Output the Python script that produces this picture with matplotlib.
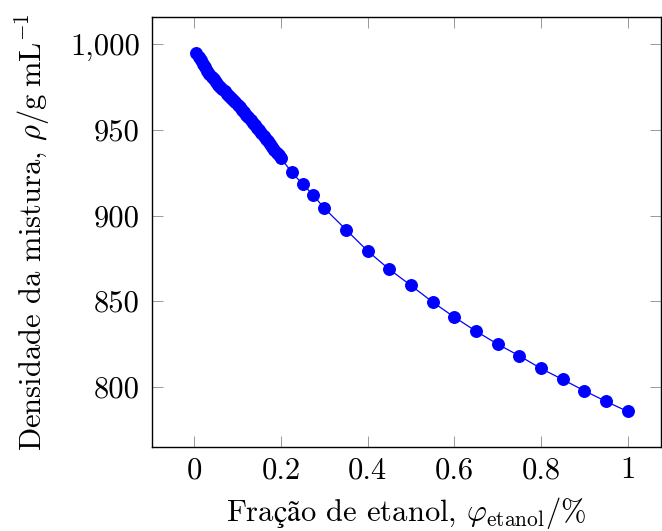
import matplotlib
matplotlib.use("Agg")
import matplotlib.pyplot as plt
from matplotlib.ticker import FuncFormatter

# Fração molar de etanol (eixo x)
fracao = [0.005, 0.010, 0.015, 0.020, 0.025, 0.030, 0.035, 0.040, 0.045, 0.050,
          0.055, 0.060, 0.065, 0.070, 0.075, 0.080, 0.085, 0.090, 0.095, 0.100,
          0.105, 0.110, 0.115, 0.120, 0.125, 0.130, 0.135, 0.140, 0.145, 0.150,
          0.155, 0.160, 0.165, 0.170, 0.175, 0.180, 0.185, 0.190, 0.195, 0.200,
          0.225, 0.250, 0.275, 0.300, 0.350, 0.400, 0.450, 0.500, 0.550, 0.600,
          0.650, 0.700, 0.750, 0.800, 0.850, 0.900, 0.950, 1.000]

# Densidade da mistura (eixo y)
densidade = [995.0, 992.8, 990.7, 988.6, 986.6, 984.6, 982.8, 981.1, 979.5, 977.9,
             976.5, 975.1, 973.8, 972.5, 971.2, 970.0, 968.7, 967.4, 966.1, 964.7,
             963.2, 961.7, 960.2, 958.7, 957.3, 955.8, 954.3, 952.9, 951.3, 949.7,
             948.2, 946.6, 945.0, 943.3, 941.7, 940.1, 938.4, 936.7, 935.1, 933.5,
             925.2, 918.4, 911.8, 904.3, 891.8, 879.3, 868.6, 859.2, 849.5, 840.7,
             832.5, 824.9, 818.1, 810.7, 804.3, 797.7, 791.5, 785.6]

xticks = [0, 0.2, 0.4, 0.6, 0.8, 1]
yticks = [800, 850, 900, 950, 1000]

plt.rcParams['font.family'] = ['cmr10', 'DejaVu Serif']
plt.rcParams['mathtext.fontset'] = 'cm'
plt.rcParams['axes.formatter.use_mathtext'] = True

FS = 22

fig = plt.figure(figsize=(6.62, 5.31), dpi=100)
ax = fig.add_axes([0.230, 0.158, 0.7685, 0.8095])

ax.plot(fracao, densidade, color='blue', lw=0.9, marker='o', markersize=8.3,
        markeredgecolor='blue', markerfacecolor='blue')

ax.set_xlim(-0.097, 1.077)
ax.set_ylim(764.8, 1015.8)
ax.set_xticks(xticks)
ax.set_yticks(yticks)
ax.xaxis.set_major_formatter(FuncFormatter(lambda v, p: f"{v:g}"))
ax.yaxis.set_major_formatter(FuncFormatter(lambda v, p: f"{v:,.0f}"))

ax.tick_params(direction='in', length=7.6, width=0.7, color='0.6',
               top=True, right=True, labelsize=FS)
ax.tick_params(axis='x', pad=7)
ax.tick_params(axis='y', pad=9)
for s in ax.spines.values():
    s.set_linewidth(1.0)

# ç e ã pela fonte de fallback do mathtext (cmr10 não tem esses glifos)
ax.set_xlabel(r"Fra$\mathrm{ç}$$\mathrm{ã}$o de etanol, $\varphi_{\mathrm{etanol}}/\%$",
              fontsize=FS, labelpad=8)
ax.set_ylabel(r"Densidade da mistura, $\rho/\mathrm{g\;mL^{-1}}$", fontsize=FS, labelpad=12)

fig.savefig("out.png", dpi=100)
